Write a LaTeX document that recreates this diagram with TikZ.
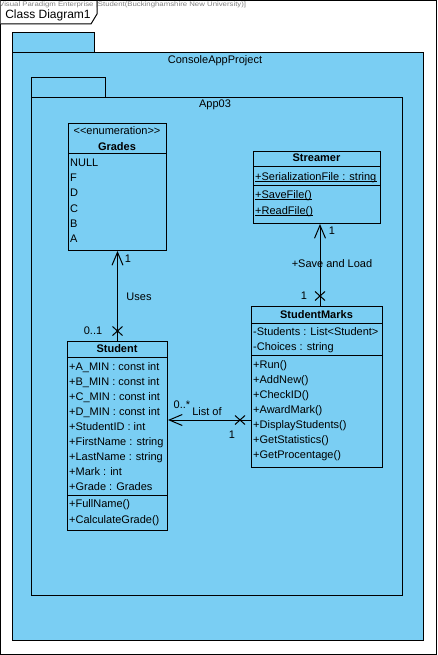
\documentclass[tikz,border=0pt]{standalone}
\usepackage{fontspec}
\setmainfont{Liberation Sans}
\usetikzlibrary{arrows.meta}
\definecolor{pkgblue}{RGB}{122,206,243}
\tikzset{
  txt/.style={font=\fontsize{11}{13}\selectfont, inner sep=0pt},
  member/.style={txt, anchor=base west},
  label/.style={txt, anchor=center},
  cname/.style={inner sep=0pt, anchor=base, font=\fontsize{11}{13}\selectfont\bfseries},
  box/.style={draw, fill=pkgblue, line width=1pt, anchor=north west, inner sep=0pt, rectangle},
  pkg/.style={draw, fill=pkgblue, line width=1pt},
  sep/.style={line width=1pt},
  assoc/.style={line width=1pt},
  nav/.style={assoc, -{Straight Barb[length=13pt,width=11pt,line width=1pt]}},
  ul/.style={line width=0.8pt}
}
% a cross marking a non-navigable association end
\newcommand\umlcross[1]{\draw[assoc] (#1) ++(-5,-4.5) -- ++(10,9) (#1) ++(-5,4.5) -- ++(10,-9);}
\begin{document}
\begin{tikzpicture}[x=1pt,y=-1pt]
\useasboundingbox (0,0) rectangle (437,655);
\fill[white] (0,0) rectangle (437,655);

% diagram frame
\draw[line width=1pt] (0.5,0.5) rectangle (436,654);
\draw[line width=1pt, fill=white] (0.5,0.5) -- (97,0.5) -- (97,14) -- (91,24) -- (0.5,24);
\node[inner sep=0pt, font=\fontsize{12}{14}\selectfont] (frametitle) at (48,15.5) {Class Diagram1};
\node[inner sep=0pt, anchor=west, text=gray, font=\fontsize{6.5}{7}\selectfont] (vpnote) at (-1,4.5)
  {\scalebox{1.2}[1]{Visual Paradigm Enterprise [Student(Buckinghamshire New University)]}};

% package ConsoleAppProject
\draw[pkg] (12,33) rectangle (94,53);
\draw[pkg] (12,53) rectangle (423,640);
\node[label] (pkgouter) at (215,61) {ConsoleAppProject};

% package App03
\draw[pkg] (31,78) rectangle (105,98);
\draw[pkg] (31,98) rectangle (402,595);
\node[label] (pkginner) at (215,105) {App03};

% enumeration Grades
\node[box, minimum width=98pt, minimum height=127pt] (grades) at (68,123) {};
\node[txt, anchor=base] (gradesst) at (117,135) {{<}{<}enumeration{>}{>}};
\node[cname] (gradesname) at (117,150) {Grades};
\draw[sep] (68,154) -- (166,154);
\foreach \v [count=\i from 0] in {NULL,F,D,C,B,A}
  \node[member] (grades-\i) at (70,166.5+15.2*\i) {\v};

% class Streamer
\node[box, minimum width=127pt, minimum height=72pt] (streamer) at (253,151) {};
\node[cname] (streamername) at (316.5,162) {Streamer};
\draw[sep] (253,167) -- (380,167);
\node[member] (sfile) at (255,180) {+SerializationFile : string};
\draw[sep] (253,185) -- (380,185);
\node[member] (ssave) at (255,198) {+SaveFile()};
\node[member] (sread) at (255,214) {+ReadFile()};
\foreach \n in {sfile,ssave,sread}
  \draw[ul] ([yshift=-1.8pt]\n.base west) -- ([yshift=-1.8pt]\n.base east);

% class StudentMarks
\node[box, minimum width=131pt, minimum height=161pt] (marks) at (251,306) {};
\node[cname] (marksname) at (316.5,318) {StudentMarks};
\draw[sep] (251,323) -- (382,323);
\node[member] (marks-a0) at (253,335) {-Students : List{<}Student{>}};
\node[member] (marks-a1) at (253,350) {-Choices : string};
\draw[sep] (251,355) -- (382,355);
\foreach \v [count=\i from 0] in {+Run(),+AddNew(),+CheckID(),+AwardMark(),+DisplayStudents(),+GetStatistics(),+GetProcentage()}
  \node[member] (marks-m\i) at (253,368+15.1*\i) {\v};

% class Student
\node[box, minimum width=100pt, minimum height=189pt] (student) at (67,341) {};
\node[cname] (studentname) at (117,352) {Student};
\draw[sep] (67,357) -- (167,357);
\foreach \v [count=\i from 0] in {+A\_MIN : const int,+B\_MIN : const int,+C\_MIN : const int,+D\_MIN : const int,+StudentID : int,+FirstName : string,+LastName : string,+Mark : int,+Grade : Grades}
  \node[member] (student-a\i) at (69,370+15*\i) {\v};
\draw[sep] (67,495) -- (167,495);
\node[member] (student-m0) at (69,507) {+FullName()};
\node[member] (student-m1) at (69,523) {+CalculateGrade()};

% association Student -> Grades
\coordinate (usesx) at (117.5,331);
\draw[nav] (student.north) -- (grades.south);
\umlcross{usesx}
\node[label] (uses1) at (128,259) {1};
\node[label] (usesname) at (139,297) {Uses};
\node[label] (uses01) at (93,331) {0..1};

% association StudentMarks -> Streamer
\coordinate (svcol) at (320,0);
\coordinate (svx) at (320,296);
\draw[nav] (marks.north -| svcol) -- (streamer.south -| svcol);
\umlcross{svx}
\node[label] (sv1top) at (332,231) {1};
\node[label] (svname) at (332,264) {+Save and Load};
\node[label] (sv1bot) at (304,296) {1};

% association StudentMarks -> Student
\coordinate (lofrow) at (0,420);
\coordinate (lofx) at (240,420);
\draw[nav] (marks.west |- lofrow) -- (student.east |- lofrow);
\umlcross{lofx}
\node[label] (lofmany) at (182,405) {0..*};
\node[label] (lofname) at (207,412) {List of};
\node[label] (lof1) at (232,435) {1};
\end{tikzpicture}
\end{document}
